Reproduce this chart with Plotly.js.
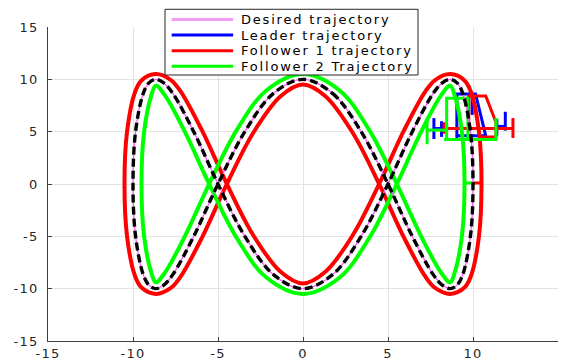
<!DOCTYPE html>
<html>
<head>
<meta charset="utf-8">
<script src="https://cdn.plot.ly/plotly-3.0.1.min.js"></script>
<style>
  html, body { margin: 0; padding: 0; background: #fff; }
  #chart { width: 566px; height: 362px; }
  /* the reference text is set wide */
  #chart .annotation-text { letter-spacing: 1.8px; }
  #chart .xtick text, #chart .ytick text { letter-spacing: 1.2px; }
</style>
</head>
<body>
<div id="chart"></div>
<script>
(function () {
  "use strict";

  // --- Data ---

  // Desired trajectory (also traced by the black dashed line)
  const desiredX = [0, 1.736, 3.420, 5.000, 6.428, 7.660, 8.192, 8.660, 9.063, 9.397, 9.848, 10.000, 9.848, 9.397, 9.063, 8.660, 8.192, 7.660, 6.428, 5.000, 3.420, 1.736, 0, -1.736, -3.420, -5.000, -6.428, -7.660, -8.192, -8.660, -9.063, -9.397, -9.848, -10.000, -9.848, -9.397, -9.063, -8.660, -8.192, -7.660, -6.428, -5.000, -3.420, -1.736, 0];
  const desiredY = [10, 8.660, 5.000, 0, -5.000, -8.660, -9.659, -10, -9.659, -8.660, -5.000, 0, 5.000, 8.660, 9.659, 10, 9.659, 8.660, 5.000, 0, -5.000, -8.660, -10, -8.660, -5.000, 0, 5.000, 8.660, 9.659, 10, 9.659, 8.660, 5.000, 0, -5.000, -8.660, -9.659, -10, -9.659, -8.660, -5.000, 0, 5.000, 8.660, 10];

  // Follower 1 (red), steady part
  const f1X = [0, 1.318, 2.950, 4.519, 5.948, 7.200, 7.790, 8.660, 9.502, 9.885, 10.347, 10.500, 10.347, 9.885, 9.502, 8.660, 7.790, 7.200, 5.948, 4.519, 2.950, 1.318, 0, -1.318, -2.950, -4.519, -5.948, -7.200, -7.790, -8.660, -9.502, -9.885, -10.347, -10.500, -10.347, -9.885, -9.502, -8.660, -7.790, -7.200, -5.948, -4.519, -2.950, -1.318, 0];
  const f1Y = [9.5, 8.385, 4.830, -0.139, -5.142, -8.857, -9.956, -10.5, -9.898, -8.771, -5.033, 0, 5.033, 8.771, 9.898, 10.5, 9.956, 8.857, 5.142, 0.139, -4.830, -8.385, -9.5, -8.385, -4.830, 0.139, 5.142, 8.857, 9.956, 10.5, 9.898, 8.771, 5.033, 0, -5.033, -8.771, -9.898, -10.5, -9.956, -8.857, -5.142, -0.139, 4.830, 8.385, 9.5];

  // Follower 2 (green), steady part
  const f2X = [0, 2.154, 3.890, 5.481, 6.908, 8.120, 8.660, 8.909, 9.349, 9.500, 9.349, 8.909, 8.660, 8.120, 6.908, 5.481, 3.890, 2.154, 0, -2.154, -3.890, -5.481, -6.908, -8.120, -8.660, -8.909, -9.349, -9.500, -9.349, -8.909, -8.660, -8.120, -6.908, -5.481, -3.890, -2.154, 0];
  const f2Y = [10.5, 8.935, 5.170, 0.139, -4.858, -8.463, -9.4, -8.549, -4.967, 0, 4.967, 8.549, 9.4, 8.463, 4.858, -0.139, -5.170, -8.935, -10.5, -8.935, -5.170, -0.139, 4.858, 8.463, 9.4, 8.549, 4.967, 0, -4.967, -8.549, -9.4, -8.463, -4.858, 0.139, 5.170, 8.935, 10.5];

  // Start-up transients (stepped pieces, null breaks the line)
  const leaderTrX = [7.7, 7.7, null, 7.7, 8.15, null, 8.15, 8.15, null, 9.05, 9.05, 10.15, 10.75, 9.05, null, 9.95, 9.95, null, 11.4, 11.4, null, 11.4, 11.9, null, 11.9, 11.9];
  const leaderTrY = [4.3, 6.3, null, 5.3, 5.3, null, 4.5, 6.0, null, 4.4, 8.6, 8.6, 4.6, 4.6, null, 8.6, 6.6, null, 4.6, 6.2, null, 5.5, 5.5, null, 5.1, 6.9];
  const f1TrX = [8.3, 8.3, null, 8.3, 12.35, null, 12.35, 12.35, null, 9.75, 9.75, 10.75, 11.35, 11.35, 10.4, null, 10.0, 10.45];
  const f1TrY = [4.8, 5.9, null, 5.3, 5.3, null, 4.4, 6.3, null, 5.3, 8.4, 8.4, 5.9, 4.5, 4.5, null, 0.1, 0.1];
  const f2TrX = [7.3, 7.3, null, 7.3, 8.45, null, 8.45, 8.45, 9.7, 9.7, null, 8.3, 11.35, 11.35, null, 9.5, 10.0];
  const f2TrY = [3.8, 6.3, null, 5.15, 5.15, null, 4.25, 8.2, 8.2, 4.3, null, 4.25, 4.25, 6.3, null, 0.1, 0.1];

  // Axis ticks
  const tickVals = [-15, -10, -5, 0, 5, 10, 15];
  const tickText = ["-15", "-10", "-5", "0", "5", "10", "15"];

  // Legend entries
  const legendNames = ["Desired trajectory", "Leader trajectory", "Follower 1 trajectory", "Follower 2 Trajectory"];

  // --- Styles ---
  const PINK = "#ff55ff", BLUE = "#0000ff", RED = "#ff0000", GREEN = "#00ff00";
  const legendColors = ["#f29df2", BLUE, RED, GREEN];
  const FONT = "DejaVu Sans, Arial, sans-serif";

  const traces = [
    { x: leaderTrX, y: leaderTrY, mode: "lines", line: { color: BLUE, width: 3 }, connectgaps: false },
    { x: f1X, y: f1Y, mode: "lines", line: { color: RED, width: 4, shape: "spline", smoothing: 1 } },
    { x: f1TrX, y: f1TrY, mode: "lines", line: { color: RED, width: 3 }, connectgaps: false },
    { x: f2X, y: f2Y, mode: "lines", line: { color: GREEN, width: 4, shape: "spline", smoothing: 1 } },
    { x: f2TrX, y: f2TrY, mode: "lines", line: { color: GREEN, width: 3 }, connectgaps: false },
    { x: desiredX, y: desiredY, mode: "lines", line: { color: PINK, width: 1.3, shape: "spline", smoothing: 1 } },
    { x: desiredX, y: desiredY, mode: "lines", line: { color: "#000000", width: 3.4, dash: "8px,4px", shape: "spline", smoothing: 1 } }
  ].map(function (t) { t.showlegend = false; t.hoverinfo = "skip"; return t; });

  // Hand-made legend box so the line samples and row spacing match
  const rowY = [1.0239, 0.9745, 0.9245, 0.8748];
  const shapes = [{
    type: "rect", xref: "paper", yref: "paper",
    x0: 0.2294, x1: 0.7255, y0: 0.8471, y1: 1.0564,
    fillcolor: "#ffffff", line: { color: "#262626", width: 1 }, layer: "above"
  }];
  const annotations = [];
  legendNames.forEach(function (name, i) {
    shapes.push({
      type: "line", xref: "paper", yref: "paper",
      x0: 0.2425, x1: 0.3630, y0: rowY[i], y1: rowY[i],
      line: { color: legendColors[i], width: 3 }, layer: "above"
    });
    annotations.push({
      xref: "paper", yref: "paper", x: 0.3755, y: rowY[i],
      xanchor: "left", yanchor: "middle", align: "left", showarrow: false, text: name,
      borderpad: 0,
      font: { family: FONT, size: 13, color: "#000000" }
    });
  });

  const axisCommon = {
    range: [-15, 15],
    tickmode: "array",
    tickvals: tickVals,
    ticktext: tickText,
    showgrid: true,
    gridcolor: "#e3e3e3",
    gridwidth: 1,
    zeroline: false,
    showline: true,
    linecolor: "#404040",
    linewidth: 1,
    ticks: "inside",
    ticklen: 4,
    tickcolor: "#404040",
    tickfont: { family: FONT, size: 13, color: "#262626" },
    fixedrange: true
  };

  const layout = {
    width: 566,
    height: 362,
    margin: { l: 48, r: 8, t: 27, b: 21 },
    paper_bgcolor: "#ffffff",
    plot_bgcolor: "#ffffff",
    showlegend: false,
    xaxis: Object.assign({}, axisCommon),
    yaxis: Object.assign({}, axisCommon, { ticklabelstandoff: 6 }),
    shapes: shapes,
    annotations: annotations
  };

  Plotly.newPlot("chart", traces, layout, { displayModeBar: false, staticPlot: true });
})();
</script>
</body>
</html>
